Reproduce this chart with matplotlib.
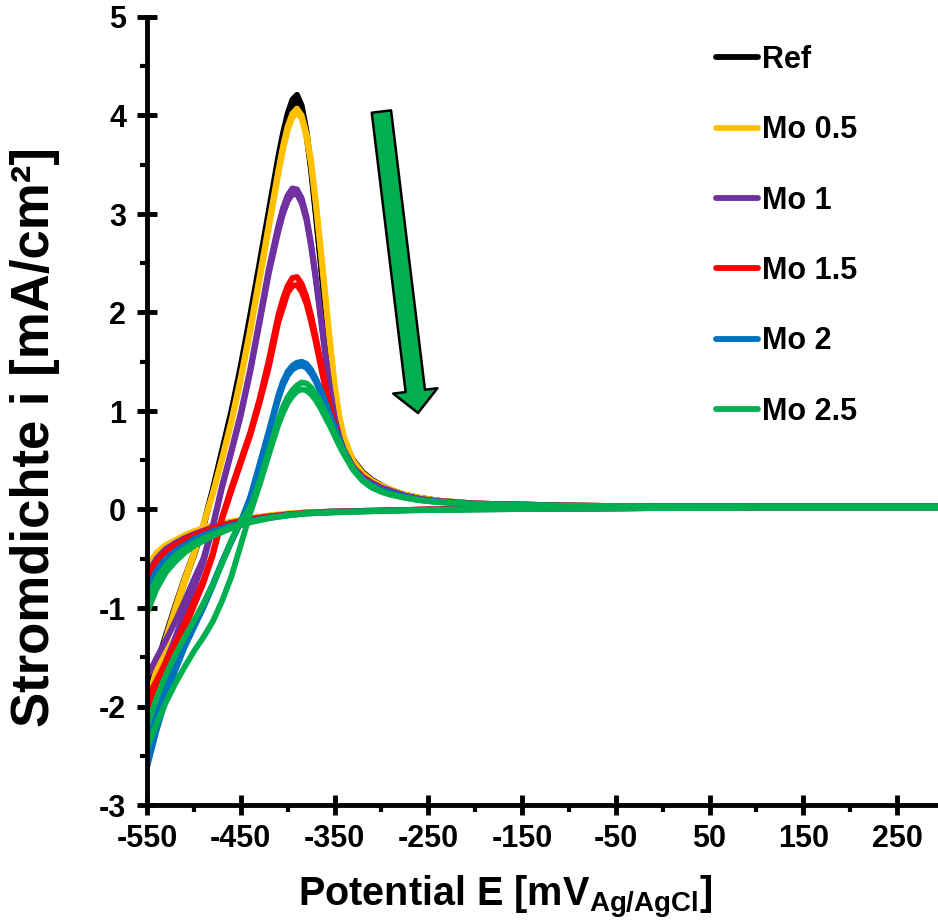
import matplotlib.pyplot as plt
from matplotlib.patches import FancyArrowPatch

plt.rcParams['font.family'] = ['Liberation Sans', 'DejaVu Sans']
plt.rcParams['font.weight'] = 'bold'
plt.rcParams['mathtext.fontset'] = 'custom'
plt.rcParams['mathtext.rm'] = 'Liberation Sans:bold'
plt.rcParams['mathtext.it'] = 'Liberation Sans:bold'
plt.rcParams['mathtext.bf'] = 'Liberation Sans:bold'
plt.rcParams['axes.unicode_minus'] = False

# Potential steps (mV vs Ag/AgCl), anodic sweep and return sweep
E_FWD = [-550, -540, -530, -520, -510, -500, -490, -480, -470, -460, -450, -440, -430, -420,
         -410, -405, -400, -395, -390, -385, -380, -375, -370, -365, -360, -355, -350, -345, -340,
         -330, -320, -310, -300, -290, -275, -260, -240, -200, -100, 0, 100, 200, 300]
E_REV = [-550, -540, -530, -520, -510, -500, -480, -460, -440, -420, -400, -380, -350, -300,
         -250, -200, -100, 0, 100, 200, 300]

# current density (mA/cm2), two cycles per sample on the anodic sweep
ref_fwd = [
    [-1.88, -1.58, -1.28, -0.98, -0.70, -0.44, -0.16, 0.20, 0.60, 1.00, 1.46, 1.97, 2.50, 3.04,
     3.58, 3.82, 4.02, 4.16, 4.21, 4.10, 3.85, 3.48, 3.02, 2.55, 2.05, 1.55, 1.12, 0.86, 0.68,
     0.50, 0.38, 0.30, 0.245, 0.20, 0.15, 0.12, 0.09, 0.06, 0.04, 0.03, 0.03, 0.03, 0.03],
    [-1.98, -1.66, -1.34, -1.03, -0.74, -0.47, -0.18, 0.18, 0.57, 0.96, 1.42, 1.92, 2.45, 2.98,
     3.52, 3.76, 3.96, 4.10, 4.15, 4.05, 3.80, 3.44, 2.99, 2.52, 2.03, 1.54, 1.11, 0.85, 0.67,
     0.49, 0.37, 0.29, 0.24, 0.195, 0.15, 0.12, 0.09, 0.06, 0.04, 0.03, 0.03, 0.03, 0.03],
]
mo05_fwd = [
    [-1.95, -1.63, -1.31, -1.00, -0.71, -0.44, -0.15, 0.16, 0.52, 0.90, 1.34, 1.83, 2.36, 2.90,
     3.44, 3.69, 3.89, 4.02, 4.07, 4.00, 3.82, 3.55, 3.13, 2.68, 2.20, 1.72, 1.28, 0.95, 0.74,
     0.49, 0.37, 0.29, 0.24, 0.20, 0.15, 0.12, 0.09, 0.06, 0.04, 0.03, 0.03, 0.03, 0.03],
    [-2.05, -1.71, -1.38, -1.05, -0.75, -0.46, -0.16, 0.15, 0.50, 0.88, 1.31, 1.80, 2.32, 2.86,
     3.40, 3.65, 3.85, 3.98, 4.03, 3.97, 3.78, 3.50, 3.10, 2.65, 2.17, 1.70, 1.26, 0.94, 0.73,
     0.48, 0.36, 0.29, 0.24, 0.20, 0.15, 0.12, 0.09, 0.06, 0.04, 0.03, 0.03, 0.03, 0.03],
]
mo1_fwd = [
    [-1.70, -1.51, -1.33, -1.14, -0.93, -0.71, -0.50, -0.17, 0.24, 0.60, 0.98, 1.42, 1.93, 2.45,
     2.88, 3.06, 3.19, 3.26, 3.25, 3.16, 2.98, 2.70, 2.36, 1.98, 1.60, 1.24, 0.94, 0.74, 0.60,
     0.43, 0.33, 0.27, 0.22, 0.19, 0.14, 0.11, 0.085, 0.06, 0.04, 0.03, 0.03, 0.03, 0.03],
    [-2.05, -1.80, -1.55, -1.30, -1.05, -0.80, -0.54, -0.19, 0.22, 0.58, 0.95, 1.39, 1.89, 2.40,
     2.82, 3.00, 3.13, 3.20, 3.20, 3.11, 2.94, 2.67, 2.33, 1.96, 1.58, 1.23, 0.93, 0.73, 0.59,
     0.42, 0.33, 0.27, 0.22, 0.19, 0.14, 0.11, 0.085, 0.06, 0.04, 0.03, 0.03, 0.03, 0.03],
]
mo15_fwd = [
    [-1.92, -1.74, -1.55, -1.36, -1.16, -0.94, -0.72, -0.45, -0.08, 0.22, 0.50, 0.78, 1.12, 1.52,
     1.97, 2.14, 2.27, 2.35, 2.36, 2.29, 2.16, 1.97, 1.75, 1.51, 1.27, 1.05, 0.87, 0.72, 0.60,
     0.43, 0.33, 0.26, 0.21, 0.17, 0.13, 0.10, 0.08, 0.055, 0.035, 0.03, 0.03, 0.03, 0.03],
    [-2.02, -1.82, -1.62, -1.42, -1.21, -0.98, -0.75, -0.47, -0.10, 0.19, 0.47, 0.75, 1.08, 1.45,
     1.90, 2.05, 2.20, 2.27, 2.28, 2.21, 2.09, 1.91, 1.70, 1.47, 1.24, 1.02, 0.84, 0.70, 0.59,
     0.42, 0.32, 0.25, 0.205, 0.17, 0.13, 0.10, 0.08, 0.055, 0.035, 0.03, 0.03, 0.03, 0.03],
]
mo2_fwd = [
    [-2.62, -2.25, -1.93, -1.64, -1.40, -1.20, -1.00, -0.78, -0.54, -0.33, -0.13, 0.12, 0.46, 0.80,
     1.16, 1.30, 1.40, 1.46, 1.49, 1.50, 1.48, 1.42, 1.33, 1.22, 1.10, 0.97, 0.84, 0.72, 0.60,
     0.42, 0.31, 0.25, 0.20, 0.17, 0.13, 0.10, 0.08, 0.055, 0.035, 0.03, 0.03, 0.03, 0.03],
    [-2.40, -2.08, -1.80, -1.55, -1.33, -1.14, -0.96, -0.76, -0.53, -0.32, -0.12, 0.12, 0.44, 0.78,
     1.12, 1.26, 1.36, 1.42, 1.45, 1.46, 1.44, 1.38, 1.30, 1.19, 1.07, 0.95, 0.83, 0.71, 0.59,
     0.42, 0.31, 0.25, 0.20, 0.17, 0.13, 0.10, 0.08, 0.055, 0.035, 0.03, 0.03, 0.03, 0.03],
]
mo25_fwd = [
    [-2.20, -1.92, -1.68, -1.48, -1.30, -1.13, -0.96, -0.77, -0.55, -0.31, -0.12, 0.02, 0.28, 0.60,
     0.91, 1.04, 1.14, 1.21, 1.26, 1.29, 1.28, 1.24, 1.17, 1.09, 0.99, 0.89, 0.78, 0.68, 0.58,
     0.41, 0.30, 0.23, 0.18, 0.15, 0.12, 0.095, 0.075, 0.055, 0.035, 0.03, 0.03, 0.03, 0.03],
    [-2.42, -2.18, -1.96, -1.77, -1.60, -1.44, -1.30, -1.14, -0.93, -0.68, -0.36, -0.04, 0.25, 0.56,
     0.86, 0.98, 1.08, 1.15, 1.20, 1.22, 1.21, 1.17, 1.11, 1.03, 0.94, 0.85, 0.75, 0.65, 0.56,
     0.40, 0.29, 0.22, 0.18, 0.15, 0.12, 0.095, 0.075, 0.055, 0.035, 0.03, 0.03, 0.03, 0.03],
]

# return sweep
ref_rev = [[-0.62, -0.47, -0.38, -0.32, -0.27, -0.23, -0.17, -0.13, -0.09, -0.065, -0.045, -0.03,
            -0.02, -0.01, 0.0, 0.005, 0.01, 0.015, 0.02, 0.02, 0.02]]
mo05_rev = [[-0.58, -0.44, -0.36, -0.31, -0.26, -0.22, -0.16, -0.12, -0.09, -0.06, -0.04, -0.03,
             -0.02, -0.01, 0.0, 0.005, 0.01, 0.015, 0.02, 0.02, 0.02]]
mo1_rev = [[-0.66, -0.50, -0.40, -0.34, -0.29, -0.25, -0.18, -0.135, -0.095, -0.07, -0.05, -0.035,
            -0.02, -0.01, 0.0, 0.005, 0.01, 0.015, 0.02, 0.02, 0.02]]
mo15_rev = [[-0.70, -0.53, -0.43, -0.36, -0.31, -0.26, -0.19, -0.14, -0.10, -0.07, -0.05, -0.035,
             -0.025, -0.012, 0.0, 0.005, 0.01, 0.015, 0.02, 0.02, 0.02]]
mo2_rev = [[-0.82, -0.62, -0.50, -0.42, -0.36, -0.30, -0.22, -0.16, -0.115, -0.08, -0.055, -0.04,
            -0.025, -0.012, -0.003, 0.003, 0.01, 0.015, 0.02, 0.02, 0.02]]
mo25_rev = [[-0.92, -0.71, -0.57, -0.47, -0.40, -0.34, -0.25, -0.18, -0.125, -0.085, -0.06, -0.04,
             -0.028, -0.014, -0.005, 0.0, 0.01, 0.015, 0.02, 0.02, 0.02],
            [-1.05, -0.81, -0.64, -0.53, -0.44, -0.37, -0.27, -0.19, -0.13, -0.09, -0.06, -0.04,
             -0.03, -0.015, -0.005, 0.0, 0.01, 0.015, 0.02, 0.02, 0.02]]

labels = ['Ref', 'Mo 0.5', 'Mo 1', 'Mo 1.5', 'Mo 2', 'Mo 2.5']
colors = ['#000000', '#FFC000', '#7030A0', '#FF0000', '#0070C0', '#00B050']
fwd_data = [ref_fwd, mo05_fwd, mo1_fwd, mo15_fwd, mo2_fwd, mo25_fwd]
rev_data = [ref_rev, mo05_rev, mo1_rev, mo15_rev, mo2_rev, mo25_rev]

x_major = list(range(-550, 300, 100))
x_minor = list(range(-500, 301, 100))
y_major = list(range(-3, 6))
y_minor = [v + 0.5 for v in range(-3, 5)]

fig = plt.figure(figsize=(9.38, 9.22), dpi=100)
ax = fig.add_axes([147 / 938, 117 / 922, 797 / 938, 788 / 922])

line_kw = dict(lw=4.2, solid_joinstyle='round', solid_capstyle='round')
for name, col, fwd, rev in zip(labels, colors, fwd_data, rev_data):
    for k, cyc in enumerate(fwd):
        ax.plot(E_FWD, cyc, color=col, label=name if k == 0 else None, **line_kw)
    for cyc in rev:
        ax.plot(E_REV, cyc, color=col, **line_kw)

# trend arrow
arrow = FancyArrowPatch((-300, 4.04), (-261, 0.98),
                        arrowstyle='simple,head_width=32,head_length=16,tail_width=14',
                        mutation_scale=1, facecolor='#00B050', edgecolor='black', lw=1.8,
                        shrinkA=0, shrinkB=0, zorder=5)
ax.add_patch(arrow)

ax.set_xlim(-550, 300)
ax.set_ylim(-3, 5)
ax.set_xticks(x_major)
ax.set_xticks(x_minor, minor=True)
ax.set_yticks(y_major)
ax.set_yticks(y_minor, minor=True)

for side in ['top', 'right']:
    ax.spines[side].set_visible(False)
for side in ['left', 'bottom']:
    ax.spines[side].set_linewidth(3.5)

ax.tick_params(which='major', direction='inout', length=14, width=3.5, labelsize=22)
ax.tick_params(which='minor', direction='out', length=5, width=3)
ax.tick_params(axis='x', which='major', pad=7)
ax.tick_params(axis='y', which='major', pad=8)

ax.set_xlabel('Potential E [mV$_{Ag/AgCl}$]', fontsize=28.5, fontweight='bold')
ax.set_ylabel('Stromdichte i [mA/cm²]', fontsize=38, fontweight='bold')
ax.xaxis.set_label_coords(0.449, -0.0875)
ax.yaxis.set_label_coords(-0.109, 0.467)

ax.legend(loc='upper left', bbox_to_anchor=(716 / 938, 1 - 45 / 922),
          bbox_transform=fig.transFigure, frameon=False, fontsize=22,
          handlelength=1.37, handletextpad=0.15, labelspacing=1.32,
          borderpad=0, borderaxespad=0)

fig.savefig('out.png', dpi=100)
